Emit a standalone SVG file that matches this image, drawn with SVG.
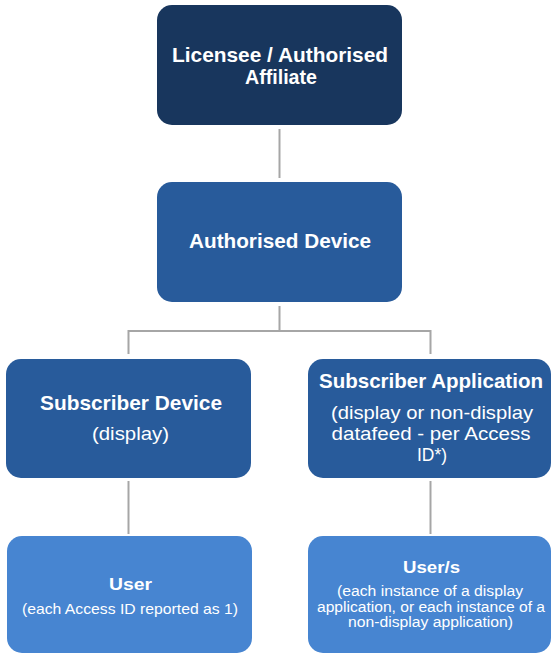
<svg xmlns="http://www.w3.org/2000/svg" width="552" height="655" viewBox="0 0 552 655">
<style>
.n1{fill:#18365d}
.n2{fill:#285b9b}
.n3{fill:#4785d1}
text{fill:#ffffff;font-family:"Liberation Sans",Arial,sans-serif;text-anchor:middle}
.b{font-weight:bold}
.c{stroke:#a6a6a6;stroke-width:2;fill:none}
</style>
<rect width="552" height="655" fill="#ffffff"/>
<g id="connectors">
<line class="c" x1="279.5" y1="129" x2="279.5" y2="178"/>
<polyline class="c" points="279.5,306 279.5,331 128.5,331 128.5,354"/>
<polyline class="c" points="279.5,331 430.5,331 430.5,354"/>
<line class="c" x1="128.5" y1="481" x2="128.5" y2="534"/>
<line class="c" x1="430.5" y1="481" x2="430.5" y2="534"/>
</g>
<g id="licensee">
<rect class="n1" x="157" y="5" width="245" height="120" rx="15"/>
<text class="b" x="280" y="62" font-size="21" textLength="216" lengthAdjust="spacingAndGlyphs">Licensee / Authorised</text>
<text class="b" x="281" y="84" font-size="21" textLength="72" lengthAdjust="spacingAndGlyphs">Affiliate</text>
</g>
<g id="authorised-device">
<rect class="n2" x="157" y="182" width="245" height="120" rx="15"/>
<text class="b" x="280" y="248" font-size="21" textLength="182" lengthAdjust="spacingAndGlyphs">Authorised Device</text>
</g>
<g id="subscriber-device">
<rect class="n2" x="6" y="359" width="245" height="119" rx="15"/>
<text class="b" x="131" y="410" font-size="21" textLength="182" lengthAdjust="spacingAndGlyphs">Subscriber Device</text>
<text x="130.5" y="440" font-size="19" textLength="77" lengthAdjust="spacingAndGlyphs">(display)</text>
</g>
<g id="subscriber-application">
<rect class="n2" x="308" y="359" width="243" height="119" rx="15"/>
<text class="b" x="431" y="388" font-size="20.5" textLength="224" lengthAdjust="spacingAndGlyphs">Subscriber Application</text>
<text x="432" y="419" font-size="19" textLength="202" lengthAdjust="spacingAndGlyphs">(display  or non-display</text>
<text x="431" y="440" font-size="19" textLength="199" lengthAdjust="spacingAndGlyphs">datafeed - per Access</text>
<text x="432" y="461" font-size="19" textLength="30" lengthAdjust="spacingAndGlyphs">ID*)</text>
</g>
<g id="user">
<rect class="n3" x="7" y="536" width="245" height="117" rx="15"/>
<text class="b" x="130.5" y="590" font-size="17" textLength="43" lengthAdjust="spacingAndGlyphs">User</text>
<text x="130" y="614" font-size="15" textLength="216" lengthAdjust="spacingAndGlyphs">(each Access ID  reported as 1)</text>
</g>
<g id="users">
<rect class="n3" x="308" y="536" width="243" height="117" rx="15"/>
<text class="b" x="431.5" y="573" font-size="17" textLength="57" lengthAdjust="spacingAndGlyphs">User/s</text>
<text x="430" y="596" font-size="14" textLength="186" lengthAdjust="spacingAndGlyphs">(each instance of a display</text>
<text x="431" y="612" font-size="14" textLength="228" lengthAdjust="spacingAndGlyphs">application, or each instance of a</text>
<text x="430.5" y="627" font-size="14" textLength="165" lengthAdjust="spacingAndGlyphs">non-display application)</text>
</g>
</svg>
